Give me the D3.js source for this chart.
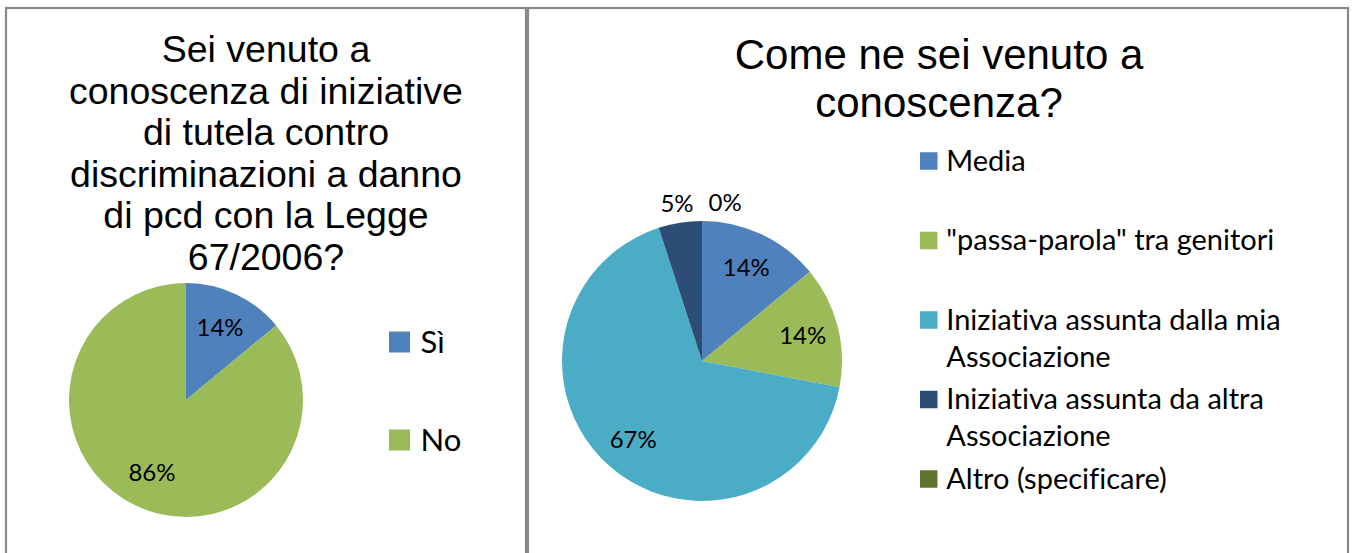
<!DOCTYPE html>
<html>
<head>
<meta charset="utf-8">
<script src="https://cdn.jsdelivr.net/npm/d3@7"></script>
<style>
  html, body { margin: 0; padding: 0; background: #fff; }
  svg { display: block; }
  text { font-variant-ligatures: none; }
</style>
</head>
<body>
<svg id="chart" width="1355" height="553"></svg>
<script>
// ---- Data ----
const leftTitle = ["Sei venuto a", "conoscenza di iniziative", "di tutela contro",
                   "discriminazioni a danno", "di pcd con la Legge", "67/2006?"];
const leftCategories = ["Sì", "No"];
const leftValues = [14, 86];
const leftColors = ["#4F81BD", "#9BBB59"];

const rightTitle = ["Come ne sei venuto a", "conoscenza?"];
const rightCategories = ["Media", "\"passa-parola\" tra genitori",
  "Iniziativa assunta dalla mia Associazione",
  "Iniziativa assunta da altra Associazione", "Altro (specificare)"];
const rightValues = [14, 14, 67, 5, 0];
const rightColors = ["#4F81BD", "#9BBB59", "#4BACC6", "#2C4D75", "#5F7530"];

// ---- Drawing ----
const svg = d3.select("#chart");
const titleFont = "'Liberation Sans', Arial, sans-serif";
const bodyFont = "Lato, 'Open Sans', sans-serif";

// chart frames
svg.append("rect").attr("x", 6).attr("y", 8).attr("width", 520).attr("height", 560)
  .attr("fill", "none").attr("stroke", "#898989").attr("stroke-width", 2.2);
svg.append("rect").attr("x", 528).attr("y", 8).attr("width", 820).attr("height", 560)
  .attr("fill", "none").attr("stroke", "#898989").attr("stroke-width", 2.2);

function drawTitle(lines, cx, firstBaseline, lineH, size) {
  svg.append("g").selectAll("text").data(lines).join("text")
    .attr("x", cx).attr("y", (d, i) => firstBaseline + i * lineH)
    .attr("text-anchor", "middle")
    .attr("font-family", titleFont).attr("font-size", size).attr("fill", "#000")
    .text(d => d);
}

function pctFormat(v, total) { return Math.round(v / total * 100) + "%"; }

function drawPie(values, colors, cx, cy, r, labelR, labelSize, outsideR) {
  const total = d3.sum(values);
  const pie = d3.pie().sort(null).value(d => d);
  const arcs = pie(values);
  const g = svg.append("g").attr("transform", `translate(${cx},${cy})`);
  const arc = d3.arc().innerRadius(0).outerRadius(r);
  g.selectAll("path").data(arcs).join("path")
    .attr("d", arc).attr("fill", (d, i) => colors[i]);
  const inArc = d3.arc().innerRadius(labelR).outerRadius(labelR);
  const outArc = d3.arc().innerRadius(outsideR).outerRadius(outsideR);
  g.selectAll("text").data(arcs).join("text")
    .attr("transform", d => {
      const frac = (d.endAngle - d.startAngle) / (2 * Math.PI);
      if (frac >= 0.08) return `translate(${inArc.centroid(d)})`;
      // small slices: label outside; zero slice nudged clockwise to avoid overlap
      const shift = frac === 0 ? 0.145 : 0;
      const dd = {startAngle: d.startAngle + shift, endAngle: d.endAngle + shift};
      return `translate(${outArc.centroid(dd)})`;
    })
    .attr("text-anchor", "middle").attr("dy", "0.36em")
    .attr("font-family", bodyFont).attr("font-size", labelSize).attr("fill", "#000")
    .text(d => pctFormat(d.data, total));
}

function drawLegend(cats, colors, x, y0, step, sq, size, maxW, lineH) {
  const g = svg.append("g");
  const tx = x + sq + sq * 0.5;
  cats.forEach((c, i) => {
    const cy = y0 + i * step;
    g.append("rect").attr("x", x).attr("y", cy - sq / 2).attr("width", sq).attr("height", sq)
      .attr("fill", colors[i]);
    const t = g.append("text").attr("x", tx).attr("y", cy + size * 0.34)
      .attr("font-family", bodyFont).attr("font-size", size).attr("fill", "#000");
    // wrap words
    const words = c.split(" ");
    let line = [];
    let tspan = t.append("tspan").attr("x", tx);
    words.forEach(w => {
      line.push(w);
      tspan.text(line.join(" "));
      if (tspan.node().getComputedTextLength() > maxW && line.length > 1) {
        line.pop();
        tspan.text(line.join(" "));
        line = [w];
        tspan = t.append("tspan").attr("x", tx).attr("dy", lineH).text(w);
      }
    });
  });
}

// Left chart
drawTitle(leftTitle, 266, 62, 41.6, 37.5);
drawPie(leftValues, leftColors, 186, 400, 117, 80, 24, 150);
drawLegend(leftCategories, leftColors, 389, 342, 98, 21, 31, 200, 30);

// Right chart
drawTitle(rightTitle, 939, 69, 47.5, 42);
drawPie(rightValues, rightColors, 702, 361, 140, 104, 24, 160);
drawLegend(rightCategories, rightColors, 920, 161, 79.5, 17.5, 29, 380, 37);
</script>
</body>
</html>
